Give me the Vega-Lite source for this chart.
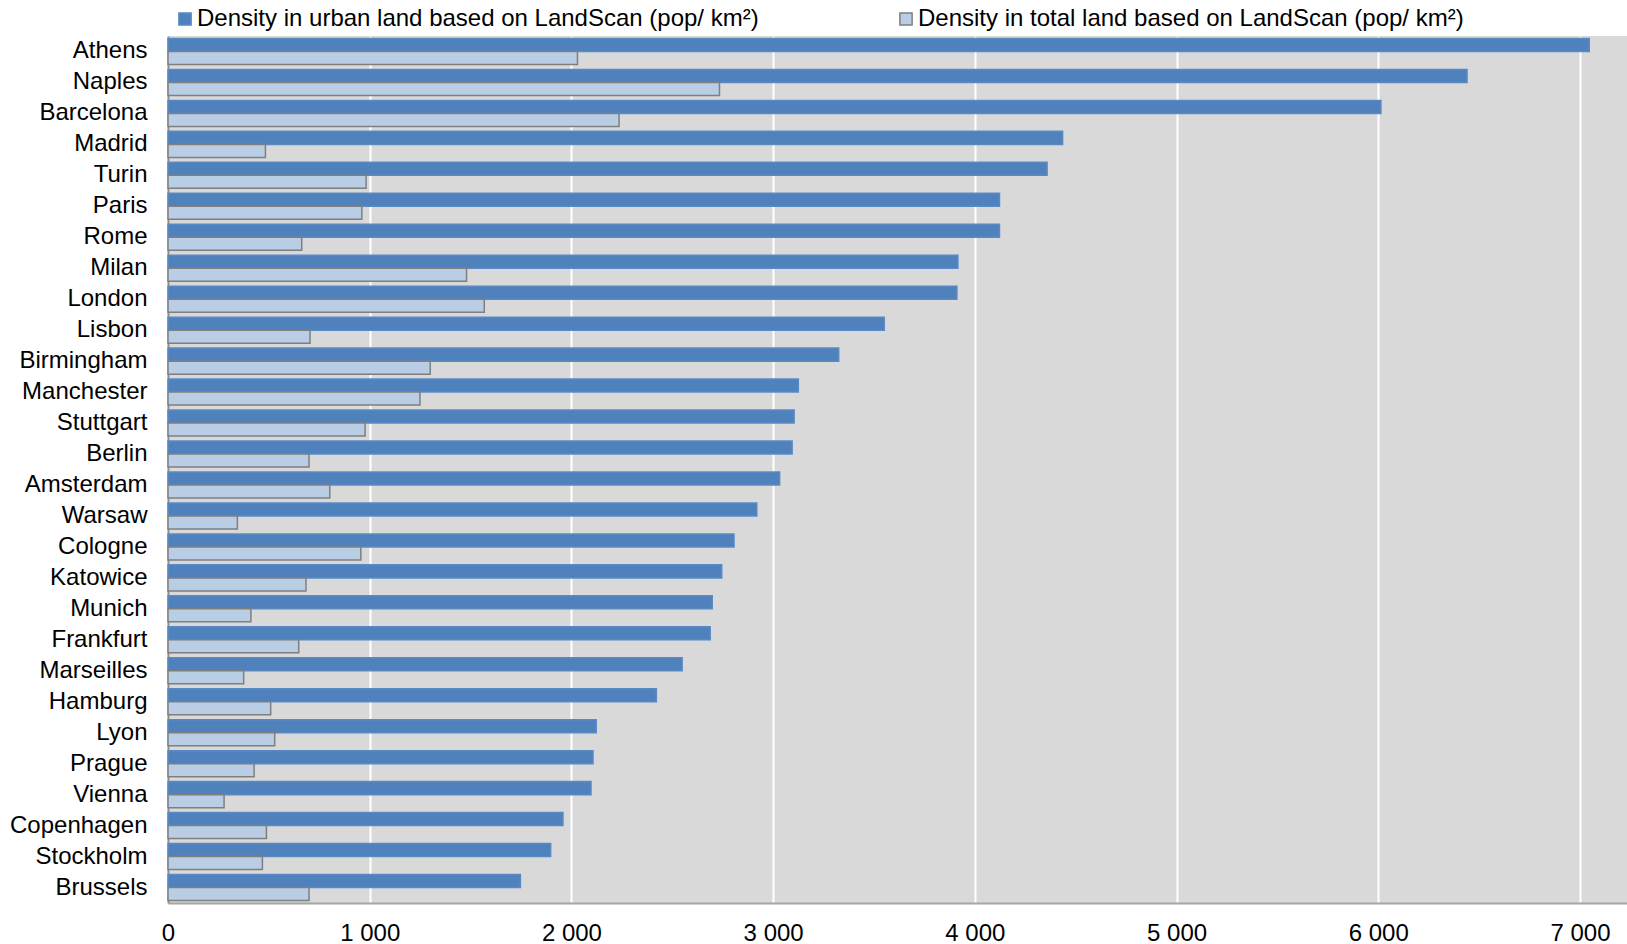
{
  "$schema": "https://vega.github.io/schema/vega-lite/v6.json",
  "width": 1459,
  "height": 867,
  "autosize": {"type": "none"},
  "padding": {"left": 168, "top": 36, "right": 0, "bottom": 41},
  "background": "white",
  "config": {
    "view": {"fill": "#D9D9D9", "stroke": null},
    "font": "Liberation Sans"
  },
  "data": {
    "values": [
      {"city": "Athens", "series": "Density in urban land based on LandScan (pop/ km²)", "value": 7046},
      {"city": "Athens", "series": "Density in total land based on LandScan (pop/ km²)", "value": 2030},
      {"city": "Naples", "series": "Density in urban land based on LandScan (pop/ km²)", "value": 6440},
      {"city": "Naples", "series": "Density in total land based on LandScan (pop/ km²)", "value": 2734},
      {"city": "Barcelona", "series": "Density in urban land based on LandScan (pop/ km²)", "value": 6013},
      {"city": "Barcelona", "series": "Density in total land based on LandScan (pop/ km²)", "value": 2236},
      {"city": "Madrid", "series": "Density in urban land based on LandScan (pop/ km²)", "value": 4435},
      {"city": "Madrid", "series": "Density in total land based on LandScan (pop/ km²)", "value": 483},
      {"city": "Turin", "series": "Density in urban land based on LandScan (pop/ km²)", "value": 4358},
      {"city": "Turin", "series": "Density in total land based on LandScan (pop/ km²)", "value": 982},
      {"city": "Paris", "series": "Density in urban land based on LandScan (pop/ km²)", "value": 4122},
      {"city": "Paris", "series": "Density in total land based on LandScan (pop/ km²)", "value": 961},
      {"city": "Rome", "series": "Density in urban land based on LandScan (pop/ km²)", "value": 4122},
      {"city": "Rome", "series": "Density in total land based on LandScan (pop/ km²)", "value": 663},
      {"city": "Milan", "series": "Density in urban land based on LandScan (pop/ km²)", "value": 3916},
      {"city": "Milan", "series": "Density in total land based on LandScan (pop/ km²)", "value": 1480},
      {"city": "London", "series": "Density in urban land based on LandScan (pop/ km²)", "value": 3911},
      {"city": "London", "series": "Density in total land based on LandScan (pop/ km²)", "value": 1568},
      {"city": "Lisbon", "series": "Density in urban land based on LandScan (pop/ km²)", "value": 3551},
      {"city": "Lisbon", "series": "Density in total land based on LandScan (pop/ km²)", "value": 704},
      {"city": "Birmingham", "series": "Density in urban land based on LandScan (pop/ km²)", "value": 3325},
      {"city": "Birmingham", "series": "Density in total land based on LandScan (pop/ km²)", "value": 1300},
      {"city": "Manchester", "series": "Density in urban land based on LandScan (pop/ km²)", "value": 3125},
      {"city": "Manchester", "series": "Density in total land based on LandScan (pop/ km²)", "value": 1249},
      {"city": "Stuttgart", "series": "Density in urban land based on LandScan (pop/ km²)", "value": 3104},
      {"city": "Stuttgart", "series": "Density in total land based on LandScan (pop/ km²)", "value": 977},
      {"city": "Berlin", "series": "Density in urban land based on LandScan (pop/ km²)", "value": 3094},
      {"city": "Berlin", "series": "Density in total land based on LandScan (pop/ km²)", "value": 699},
      {"city": "Amsterdam", "series": "Density in urban land based on LandScan (pop/ km²)", "value": 3032},
      {"city": "Amsterdam", "series": "Density in total land based on LandScan (pop/ km²)", "value": 802},
      {"city": "Warsaw", "series": "Density in urban land based on LandScan (pop/ km²)", "value": 2919},
      {"city": "Warsaw", "series": "Density in total land based on LandScan (pop/ km²)", "value": 344},
      {"city": "Cologne", "series": "Density in urban land based on LandScan (pop/ km²)", "value": 2806},
      {"city": "Cologne", "series": "Density in total land based on LandScan (pop/ km²)", "value": 956},
      {"city": "Katowice", "series": "Density in urban land based on LandScan (pop/ km²)", "value": 2745},
      {"city": "Katowice", "series": "Density in total land based on LandScan (pop/ km²)", "value": 684},
      {"city": "Munich", "series": "Density in urban land based on LandScan (pop/ km²)", "value": 2698},
      {"city": "Munich", "series": "Density in total land based on LandScan (pop/ km²)", "value": 411},
      {"city": "Frankfurt", "series": "Density in urban land based on LandScan (pop/ km²)", "value": 2688},
      {"city": "Frankfurt", "series": "Density in total land based on LandScan (pop/ km²)", "value": 648},
      {"city": "Marseilles", "series": "Density in urban land based on LandScan (pop/ km²)", "value": 2549},
      {"city": "Marseilles", "series": "Density in total land based on LandScan (pop/ km²)", "value": 375},
      {"city": "Hamburg", "series": "Density in urban land based on LandScan (pop/ km²)", "value": 2421},
      {"city": "Hamburg", "series": "Density in total land based on LandScan (pop/ km²)", "value": 509},
      {"city": "Lyon", "series": "Density in urban land based on LandScan (pop/ km²)", "value": 2123},
      {"city": "Lyon", "series": "Density in total land based on LandScan (pop/ km²)", "value": 529},
      {"city": "Prague", "series": "Density in urban land based on LandScan (pop/ km²)", "value": 2107},
      {"city": "Prague", "series": "Density in total land based on LandScan (pop/ km²)", "value": 427},
      {"city": "Vienna", "series": "Density in urban land based on LandScan (pop/ km²)", "value": 2097},
      {"city": "Vienna", "series": "Density in total land based on LandScan (pop/ km²)", "value": 278},
      {"city": "Copenhagen", "series": "Density in urban land based on LandScan (pop/ km²)", "value": 1958},
      {"city": "Copenhagen", "series": "Density in total land based on LandScan (pop/ km²)", "value": 488},
      {"city": "Stockholm", "series": "Density in urban land based on LandScan (pop/ km²)", "value": 1897},
      {"city": "Stockholm", "series": "Density in total land based on LandScan (pop/ km²)", "value": 468},
      {"city": "Brussels", "series": "Density in urban land based on LandScan (pop/ km²)", "value": 1747},
      {"city": "Brussels", "series": "Density in total land based on LandScan (pop/ km²)", "value": 699}
    ]
  },
  "mark": {"type": "bar", "strokeWidth": 1.5},
  "encoding": {
    "y": {
      "field": "city",
      "type": "nominal",
      "sort": null,
      "scale": {"paddingInner": 0.16, "paddingOuter": 0.08},
      "axis": {
        "title": null,
        "labelFontSize": 24,
        "labelColor": "#000000",
        "labelPadding": 21,
        "ticks": false,
        "domainColor": "#8C8C8C",
        "domainWidth": 2,
        "grid": false
      }
    },
    "yOffset": {
      "field": "series",
      "type": "nominal",
      "sort": ["Density in urban land based on LandScan (pop/ km²)", "Density in total land based on LandScan (pop/ km²)"],
      "scale": {"paddingInner": 0, "paddingOuter": 0}
    },
    "x": {
      "field": "value",
      "type": "quantitative",
      "scale": {"domain": [0, 7233], "nice": false},
      "axis": {
        "title": null,
        "values": [0, 1000, 2000, 3000, 4000, 5000, 6000, 7000],
        "labelExpr": "replace(format(datum.value, ','), ',', ' ')",
        "labelFontSize": 24,
        "labelColor": "#000000",
        "labelPadding": 18,
        "labelFlush": false,
        "labelOverlap": false,
        "ticks": false,
        "domainColor": "#A6A6A6",
        "domainWidth": 2,
        "grid": true,
        "gridColor": "#FFFFFF",
        "gridWidth": 2
      }
    },
    "fill": {
      "field": "series",
      "type": "nominal",
      "title": null,
      "scale": {
        "domain": ["Density in urban land based on LandScan (pop/ km²)", "Density in total land based on LandScan (pop/ km²)"],
        "range": ["#4F81BD", "#B9CDE5"]
      },
      "legend": {
        "orient": "none",
        "legendX": 5,
        "legendY": -29,
        "direction": "horizontal",
        "symbolType": "square",
        "symbolSize": 150,
        "symbolStrokeWidth": 1.5,
        "labelFontSize": 24,
        "labelColor": "#000000",
        "labelOffset": 0,
        "labelLimit": 0,
        "columnPadding": 135
      }
    },
    "stroke": {
      "field": "series",
      "type": "nominal",
      "title": null,
      "scale": {
        "domain": ["Density in urban land based on LandScan (pop/ km²)", "Density in total land based on LandScan (pop/ km²)"],
        "range": ["#5A8AC6", "#7F7F7F"]
      }
    }
  }
}
